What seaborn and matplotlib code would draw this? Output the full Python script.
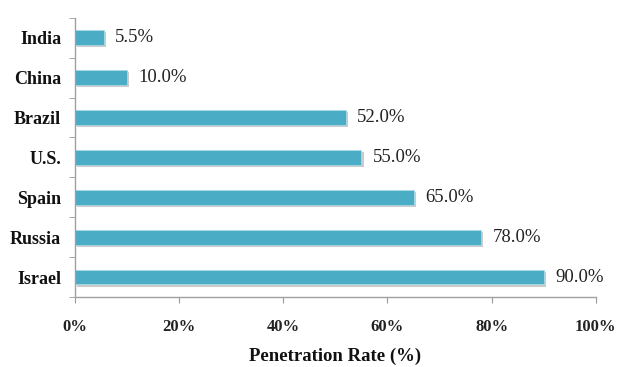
import matplotlib
matplotlib.use("Agg")
import matplotlib.pyplot as plt
import matplotlib.patheffects as pe
import seaborn as sns
import pandas as pd
import numpy as np

countries = ["India", "China", "Brazil", "U.S.", "Spain", "Russia", "Israel"]
rates = [5.5, 10.0, 52.0, 55.0, 65.0, 78.0, 90.0]
xticks = [0, 20, 40, 60, 80, 100]
xticklabels = ["0%", "20%", "40%", "60%", "80%", "100%"]

df = pd.DataFrame({"country": countries, "rate": rates})

sns.set_style("white")
plt.rcParams["font.family"] = ["Liberation Serif", "DejaVu Serif"]

fig = plt.figure(figsize=(6.2, 3.67), dpi=100)
ax = fig.add_axes([0.121, 0.19, 0.840, 0.762])

sns.barplot(data=df, y="country", x="rate", orient="h", color="#4BACC6",
            saturation=1, width=0.36, ax=ax, edgecolor="#a9d8e6", linewidth=0.6)
for p in ax.patches:
    p.set_path_effects([pe.SimplePatchShadow(offset=(1.5, -1.5), shadow_rgbFace="#999999", alpha=0.5), pe.Normal()])

for i, v in enumerate(rates):
    ax.text(v + 2.2, i, f"{v:.1f}%", va="center", ha="left", fontsize=13.5, color="#222222")

ax.set_xlim(0, 100)
ax.set_ylim(6.5, -0.5)
ax.set_xticks(xticks)
ax.set_xticklabels(xticklabels, fontsize=12, fontweight="bold", color="#222222")
ax.set_yticks(range(len(countries)))
ax.set_yticklabels(countries, fontsize=13, fontweight="bold", color="#111111")
ax.set_xlabel("Penetration Rate (%)", fontsize=13.5, fontweight="bold", labelpad=9, color="#111111")
ax.set_ylabel("")

ax.set_yticks(np.arange(-0.5, 7, 1), minor=True)
ax.tick_params(axis="y", which="major", length=0, pad=10)
ax.tick_params(axis="y", which="minor", length=4, color="#999999", direction="out", left=True)
ax.tick_params(axis="x", which="major", length=4, color="#999999", direction="out", bottom=True, pad=12)

for s in ["top", "right"]:
    ax.spines[s].set_visible(False)
for s in ["left", "bottom"]:
    ax.spines[s].set_color("#a0a0a0")
    ax.spines[s].set_linewidth(1)

fig.savefig("out.png", dpi=100)
